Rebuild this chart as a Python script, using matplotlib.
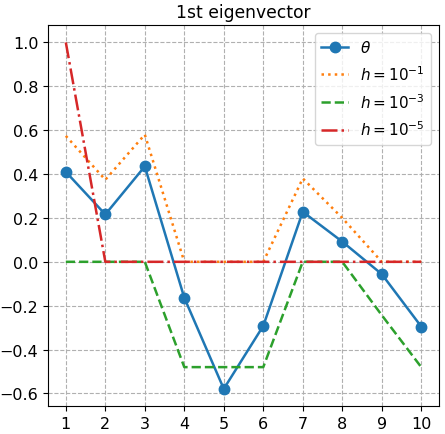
import numpy as np
import matplotlib
matplotlib.use('Agg')
import matplotlib.pyplot as plt

plt.rcParams['font.family'] = 'DejaVu Sans'

idx = np.arange(1, 11)
theta = [0.41, 0.216, 0.435, -0.164, -0.579, -0.292, 0.228, 0.092, -0.056, -0.295]
h1 = [0.574, 0.374, 0.58, 0.0, 0.0, 0.0, 0.38, 0.2, 0.0, 0.0]
h3 = [0.0, 0.0, 0.0, -0.48, -0.48, -0.48, 0.0, 0.0, -0.243, -0.48]
h5 = [1.0, 0.0, 0.0, 0.0, 0.0, 0.0, 0.0, 0.0, 0.0, 0.0]

fig, ax = plt.subplots(figsize=(4.45, 4.35), dpi=100)
ax.plot(idx, theta, 'o-', color='#1f77b4', lw=1.8, ms=7.5, label=r'$\theta$')
ax.plot(idx, h1, ':', color='#ff7f0e', lw=1.8, label=r'$h=10^{-1}$')
ax.plot(idx, h3, '--', color='#2ca02c', lw=1.8, label=r'$h=10^{-3}$')
ax.plot(idx, h5, '-.', color='#d62728', lw=1.8, label=r'$h=10^{-5}$')

ax.set_title('1st eigenvector', fontsize=12.3)
ax.set_xticks(idx)
ax.set_yticks(np.arange(-0.6, 1.01, 0.2))
ax.tick_params(labelsize=11.5)
ax.grid(True, linestyle='--', color='#b0b0b0', lw=0.8)
ax.legend(loc='upper right', fontsize=11, handlelength=1.8, labelspacing=0.6)

plt.subplots_adjust(left=0.108, right=0.9865, top=0.94, bottom=0.064)
plt.savefig('out.png')
